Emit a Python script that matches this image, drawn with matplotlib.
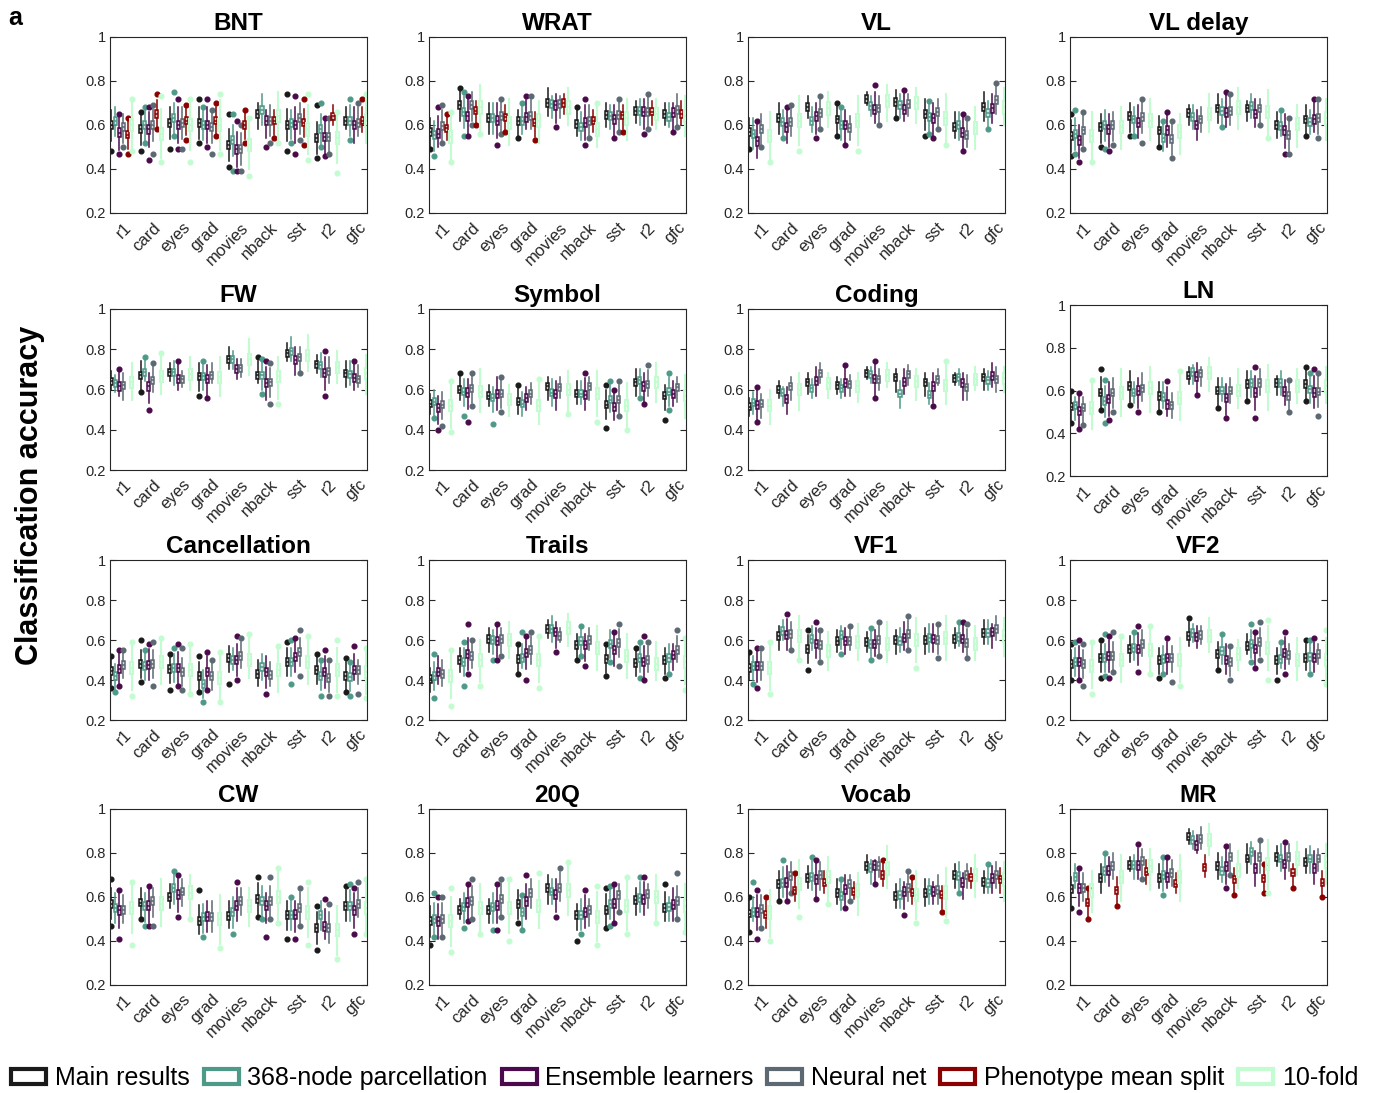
import numpy as np
import matplotlib
matplotlib.use('Agg')
import matplotlib.pyplot as plt
from matplotlib.patches import Patch
from matplotlib.colors import to_rgba

plt.rcParams['font.family'] = ['Liberation Sans', 'DejaVu Sans']

conditions = ['r1', 'card', 'eyes', 'grad', 'movies', 'nback', 'sst', 'r2', 'gfc']
series_names = ['Main results', '368-node parcellation', 'Ensemble learners',
                'Neural net', 'Phenotype mean split', '10-fold']
series_colors = ['#1a1a1a', '#4e9a88', '#4b0a4b', '#5c6872', '#8b0000', '#c4fcd2']
box_half = [0.018, 0.018, 0.02, 0.018, 0.016, 0.028]
panel_titles = ['BNT', 'WRAT', 'VL', 'VL delay', 'FW', 'Symbol', 'Coding', 'LN',
                'Cancellation', 'Trails', 'VF1', 'VF2', 'CW', '20Q', 'Vocab', 'MR']
yticks = [0.2, 0.4, 0.6, 0.8, 1.0]
ytick_labels = ['0.2', '0.4', '0.6', '0.8', '1']

# rows: Main, 368-node, Ensemble, Neural net, Phenotype mean split, 10-fold
bnt_med = [[.60, .58, .61, .61, .51, .65, .60, .54, .62], [.62, .60, .63, .60, .53, .67, .61, .58, .62],
           [.565, .58, .60, .60, .49, .62, .60, .545, .60], [.59, .60, .61, .59, .49, .62, .63, .545, .61],
           [.555, .65, .62, .62, .60, .62, .61, .64, .62], [.60, .56, .60, .60, .51, .64, .58, .54, .62]]
bnt_lo = [[.48, .48, .49, .52, .41, .58, .48, .45, .58], [.55, .52, .55, .53, .39, .60, .52, .50, .53],
          [.47, .44, .49, .50, .39, .50, .47, .46, .52], [.50, .47, .49, .47, .39, .52, .53, .47, .55],
          [.47, .58, .53, .55, .52, .54, .51, .60, .57], [.48, .43, .43, .47, .37, .52, .44, .38, .52]]
bnt_hi = [[.67, .66, .68, .72, .65, .70, .74, .69, .68], [.68, .68, .75, .68, .65, .74, .67, .70, .72],
          [.65, .68, .72, .72, .62, .67, .73, .63, .68], [.65, .69, .68, .67, .60, .69, .70, .63, .70],
          [.63, .74, .69, .70, .67, .67, .72, .69, .72], [.72, .73, .72, .74, .63, .75, .74, .66, .74]]

wrat_med = [[.57, .69, .63, .62, .70, .605, .645, .665, .65], [.555, .66, .63, .62, .695, .59, .64, .665, .635],
            [.56, .64, .62, .635, .69, .61, .625, .66, .655], [.595, .69, .64, .64, .695, .62, .645, .66, .67],
            [.585, .665, .635, .61, .70, .62, .645, .66, .65], [.545, .68, .61, .62, .68, .58, .63, .65, .64]]
wrat_lo = [[.49, .62, .56, .54, .64, .55, .59, .61, .60], [.46, .55, .56, .56, .63, .53, .58, .60, .59],
           [.50, .55, .51, .58, .59, .51, .54, .56, .57], [.52, .60, .56, .58, .63, .54, .57, .58, .59],
           [.53, .60, .57, .53, .65, .57, .57, .60, .60], [.43, .56, .51, .52, .60, .50, .53, .58, .55]]
wrat_hi = [[.63, .77, .70, .67, .77, .68, .70, .71, .70], [.62, .75, .70, .70, .73, .66, .69, .72, .70],
           [.68, .73, .70, .73, .74, .72, .69, .72, .70], [.69, .75, .72, .73, .73, .69, .72, .74, .74],
           [.65, .71, .69, .66, .74, .67, .69, .71, .71], [.66, .78, .72, .71, .77, .70, .72, .72, .73]]

vl_med = [[.57, .63, .68, .625, .72, .705, .65, .59, .68], [.56, .615, .62, .60, .685, .69, .635, .60, .655],
          [.525, .59, .64, .60, .67, .67, .63, .565, .675], [.58, .615, .655, .585, .675, .695, .66, .555, .715],
          None, [.55, .62, .675, .62, .71, .70, .63, .585, .68]]
vl_lo = [[.49, .56, .63, .55, .69, .63, .55, .54, .62], [.49, .54, .57, .53, .64, .63, .56, .53, .58],
         [.45, .52, .54, .51, .61, .62, .54, .48, .61], [.50, .55, .58, .53, .60, .64, .58, .50, .65],
         None, [.43, .48, .59, .48, .62, .61, .51, .49, .60]]
vl_hi = [[.63, .70, .73, .70, .75, .76, .72, .66, .75], [.63, .67, .68, .68, .73, .74, .71, .66, .71],
         [.62, .68, .70, .67, .78, .76, .70, .65, .74], [.65, .69, .73, .64, .73, .74, .72, .63, .79],
         None, [.66, .73, .75, .73, .78, .77, .74, .68, .77]]

vld_med = [[.55, .59, .64, .575, .655, .675, .675, .60, .625], [.56, .60, .625, .54, .635, .665, .685, .595, .615],
           [.53, .58, .61, .575, .60, .655, .65, .575, .625], [.575, .60, .635, .535, .625, .665, .675, .555, .63],
           None, [.55, .59, .62, .57, .65, .68, .66, .605, .63]]
vld_lo = [[.46, .50, .55, .50, .60, .61, .62, .54, .55], [.47, .49, .55, .48, .58, .59, .63, .55, .56],
          [.43, .48, .54, .50, .53, .59, .59, .47, .57], [.49, .51, .52, .45, .57, .60, .60, .47, .54],
          None, [.43, .49, .53, .47, .57, .58, .54, .50, .53]]
vld_hi = [[.65, .65, .70, .64, .69, .74, .71, .66, .69], [.67, .67, .68, .62, .69, .72, .74, .67, .67],
          [.60, .65, .69, .66, .67, .75, .72, .65, .72], [.66, .66, .72, .62, .68, .74, .72, .63, .72],
          None, [.66, .68, .72, .65, .74, .77, .76, .69, .72]]

fw_med = [[.64, .67, .685, .665, .75, .67, .78, .725, .68], [.63, .685, .685, .665, .75, .67, .79, .72, .675],
          [.615, .615, .65, .65, .70, .63, .745, .68, .655], [.62, .645, .65, .67, .705, .635, .76, .69, .65],
          None, [.635, .665, .675, .66, .75, .665, .77, .71, .68]]
fw_lo = [[.60, .59, .64, .57, .70, .63, .74, .68, .61], [.59, .64, .62, .60, .70, .58, .74, .66, .62],
         [.57, .50, .60, .56, .65, .55, .67, .57, .60], [.55, .59, .61, .63, .66, .53, .68, .63, .61],
         None, [.55, .58, .60, .57, .67, .53, .69, .63, .58]]
fw_hi = [[.69, .74, .73, .73, .81, .76, .83, .77, .74], [.67, .76, .74, .74, .79, .75, .86, .78, .74],
         [.70, .68, .74, .72, .75, .74, .81, .79, .74], [.68, .73, .69, .73, .75, .73, .81, .76, .72],
         None, [.73, .78, .76, .76, .85, .76, .87, .79, .77]]

sym_med = [[.53, .60, .57, .54, .615, .58, .525, .635, .57], [.54, .59, .56, .53, .585, .58, .55, .645, .59],
           [.51, .585, .58, .56, .58, .575, .515, .615, .58], [.525, .605, .58, .58, .61, .615, .55, .625, .61],
           None, [.52, .59, .55, .52, .60, .58, .52, .635, .57]]
sym_lo = [[.48, .55, .52, .48, .55, .53, .41, .57, .45], [.46, .47, .43, .47, .52, .53, .49, .56, .50],
          [.40, .44, .50, .50, .50, .50, .45, .53, .52], [.42, .52, .49, .53, .56, .55, .47, .57, .54],
          None, [.39, .49, .47, .43, .48, .44, .40, .54, .46]]
sym_hi = [[.58, .68, .62, .62, .66, .64, .62, .70, .62], [.60, .65, .61, .59, .65, .64, .64, .70, .68],
          [.57, .65, .66, .61, .64, .68, .60, .68, .64], [.59, .68, .66, .63, .66, .66, .64, .72, .66],
          None, [.64, .70, .62, .65, .69, .69, .63, .73, .67]]

cod_med = [[.515, .60, .635, .62, .68, .66, .635, .655, .66], [.535, .585, .605, .605, .675, .58, .575, .66, .645],
           [.525, .555, .64, .63, .65, .635, .615, .63, .665], [.53, .615, .68, .625, .65, .675, .65, .61, .65],
           None, [.52, .60, .63, .615, .67, .64, .62, .65, .655]]
cod_lo = [[.47, .56, .58, .58, .65, .59, .57, .62, .60], [.48, .52, .56, .56, .63, .51, .53, .62, .60],
          [.44, .48, .57, .57, .56, .58, .52, .55, .61], [.46, .55, .63, .57, .60, .62, .62, .55, .59],
          None, [.43, .50, .56, .54, .61, .55, .53, .60, .59]]
cod_hi = [[.56, .64, .68, .66, .71, .70, .68, .68, .70], [.59, .61, .65, .65, .71, .64, .63, .70, .69],
          [.61, .61, .71, .72, .74, .70, .68, .68, .73], [.58, .66, .73, .67, .70, .72, .70, .67, .71],
          None, [.60, .68, .68, .68, .73, .70, .74, .71, .71]]

ln_med = [[.525, .59, .62, .575, .67, .60, .63, .635, .63], [.53, .55, .59, .57, .685, .60, .635, .635, .605],
          [.505, .56, .60, .535, .665, .565, .59, .595, .59], [.52, .59, .61, .53, .68, .60, .635, .575, .595],
          None, [.52, .59, .61, .565, .68, .60, .62, .62, .62]]
ln_lo = [[.45, .51, .53, .50, .63, .52, .55, .58, .55], [.46, .45, .54, .52, .63, .55, .57, .58, .54],
         [.42, .46, .50, .48, .58, .47, .47, .53, .52], [.44, .50, .55, .47, .62, .54, .58, .50, .48],
         None, [.42, .48, .50, .46, .60, .52, .51, .54, .54]]
ln_hi = [[.60, .70, .69, .64, .71, .66, .69, .67, .71], [.57, .65, .64, .64, .72, .66, .69, .69, .68],
         [.59, .64, .66, .645, .73, .63, .71, .65, .70], [.57, .66, .68, .59, .71, .66, .70, .65, .68],
         None, [.65, .70, .71, .69, .75, .70, .72, .70, .71]]

can_med = [[.445, .48, .455, .42, .51, .43, .49, .45, .42], [.42, .47, .46, .38, .50, .465, .49, .42, .415],
           [.455, .475, .46, .44, .50, .44, .515, .44, .45], [.475, .48, .44, .42, .52, .425, .54, .41, .45],
           None, [.46, .49, .45, .41, .50, .45, .49, .45, .44]]
can_lo = [[.36, .39, .35, .34, .38, .37, .42, .38, .34], [.34, .40, .39, .29, .45, .40, .38, .32, .32],
          [.37, .40, .37, .35, .40, .33, .44, .36, .40], [.41, .37, .35, .35, .46, .37, .42, .32, .33],
          None, [.32, .38, .33, .29, .41, .34, .38, .32, .31]]
can_hi = [[.52, .60, .53, .52, .57, .50, .59, .53, .51], [.48, .55, .56, .45, .56, .53, .60, .50, .49],
          [.55, .58, .58, .54, .62, .52, .61, .55, .57], [.55, .59, .56, .50, .61, .49, .65, .50, .50],
          None, [.59, .61, .58, .54, .63, .57, .62, .60, .56]]

trl_med = [[.405, .50, .605, .505, .655, .575, .505, .485, .50], [.42, .49, .60, .51, .655, .595, .58, .51, .51],
           [.44, .53, .595, .535, .64, .575, .55, .49, .525], [.43, .52, .605, .55, .62, .60, .585, .50, .55],
           None, [.42, .50, .60, .50, .66, .56, .52, .48, .49]]
trl_lo = [[.34, .44, .54, .43, .61, .50, .42, .42, .41], [.31, .37, .50, .46, .59, .52, .49, .41, .43],
          [.38, .43, .50, .40, .54, .47, .47, .40, .45], [.37, .46, .52, .48, .59, .55, .47, .44, .49],
          None, [.27, .37, .51, .36, .57, .45, .41, .40, .35]]
trl_hi = [[.46, .56, .66, .58, .70, .63, .58, .56, .56], [.53, .59, .65, .64, .72, .67, .65, .59, .58],
          [.52, .68, .68, .62, .69, .63, .64, .62, .58], [.50, .60, .66, .64, .66, .66, .68, .59, .65],
          None, [.55, .60, .69, .62, .73, .67, .63, .59, .61]]

vf1_med = [[.46, .62, .555, .595, .59, .60, .60, .605, .635], [.47, .645, .605, .625, .58, .595, .61, .615, .635],
           [.47, .625, .58, .595, .58, .61, .605, .605, .64], [.47, .63, .575, .595, .60, .63, .60, .585, .655],
           None, [.46, .62, .545, .59, .58, .60, .61, .58, .62]]
vf1_lo = [[.40, .55, .45, .54, .54, .53, .53, .56, .58], [.38, .60, .55, .53, .50, .54, .54, .57, .58],
          [.36, .55, .51, .53, .52, .55, .54, .54, .56], [.40, .55, .49, .55, .52, .55, .51, .51, .60],
          None, [.33, .50, .45, .50, .49, .46, .50, .50, .52]]
vf1_hi = [[.54, .67, .65, .65, .64, .65, .66, .66, .70], [.52, .70, .67, .67, .66, .66, .68, .69, .70],
          [.56, .73, .69, .66, .65, .69, .68, .69, .68], [.56, .69, .65, .67, .69, .72, .68, .68, .72],
          None, [.59, .72, .64, .68, .69, .71, .72, .67, .71]]

vf2_med = [[.48, .51, .555, .50, .62, .53, .57, .50, .51], [.49, .51, .56, .505, .635, .545, .58, .505, .515],
           [.49, .52, .555, .51, .615, .50, .555, .535, .51], [.48, .52, .58, .51, .625, .49, .59, .525, .53],
           None, [.47, .50, .55, .50, .62, .53, .56, .50, .50]]
vf2_lo = [[.40, .41, .49, .41, .57, .45, .53, .40, .45], [.42, .42, .50, .43, .59, .48, .49, .46, .43],
          [.40, .41, .44, .43, .56, .43, .46, .43, .44], [.37, .44, .52, .39, .58, .40, .50, .48, .48],
          None, [.33, .39, .43, .37, .54, .45, .40, .40, .38]]
vf2_hi = [[.58, .60, .62, .56, .71, .59, .63, .56, .60], [.59, .63, .64, .57, .68, .63, .68, .59, .60],
          [.60, .62, .67, .61, .67, .58, .64, .64, .61], [.58, .64, .65, .57, .67, .57, .69, .58, .58],
          None, [.59, .62, .67, .61, .71, .60, .70, .61, .65]]

cw_med = [[.57, .575, .60, .49, .515, .59, .52, .46, .56], [.55, .56, .64, .51, .53, .58, .52, .52, .56],
          [.54, .56, .61, .51, .56, .56, .52, .465, .54], [.54, .58, .625, .51, .58, .58, .55, .46, .57],
          None, [.55, .57, .62, .50, .56, .60, .53, .45, .55]]
cw_lo = [[.47, .50, .55, .43, .46, .51, .41, .36, .49], [.48, .47, .57, .42, .43, .50, .45, .45, .49],
         [.41, .47, .51, .44, .49, .42, .41, .41, .43], [.48, .47, .56, .44, .52, .50, .47, .39, .51],
         None, [.38, .47, .50, .37, .47, .48, .38, .32, .43]]
cw_hi = [[.68, .64, .66, .63, .58, .69, .58, .56, .65], [.62, .62, .72, .57, .60, .65, .60, .58, .66],
         [.63, .65, .70, .58, .67, .62, .58, .59, .64], [.61, .64, .68, .58, .64, .69, .64, .57, .67],
         None, [.67, .68, .70, .61, .64, .73, .67, .56, .68]]

q20_med = [[.49, .54, .54, .57, .64, .52, .54, .585, .55], [.50, .555, .555, .53, .625, .52, .57, .595, .555],
           [.49, .575, .56, .58, .61, .53, .57, .59, .565], [.50, .58, .59, .62, .64, .54, .61, .615, .58],
           None, [.49, .55, .55, .56, .63, .51, .56, .60, .56]]
q20_lo = [[.38, .50, .48, .48, .57, .40, .46, .52, .49], [.42, .46, .45, .45, .57, .43, .47, .53, .49],
          [.41, .49, .45, .50, .51, .46, .48, .52, .49], [.42, .50, .51, .55, .58, .47, .53, .55, .50],
          None, [.35, .43, .40, .46, .52, .38, .43, .48, .44]]
q20_hi = [[.56, .59, .59, .63, .70, .57, .64, .64, .66], [.62, .62, .62, .61, .68, .59, .65, .69, .60],
          [.60, .66, .66, .70, .68, .63, .66, .69, .64], [.60, .68, .68, .68, .73, .59, .66, .66, .71],
          None, [.64, .66, .68, .71, .76, .65, .69, .70, .66]]

voc_med = [[.525, .66, .685, .62, .74, .605, .62, .70, .67], [.53, .665, .69, .605, .73, .61, .63, .695, .665],
           [.53, .665, .68, .635, .745, .625, .625, .665, .685], [.545, .695, .70, .66, .74, .64, .63, .70, .70],
           [.52, .63, .665, .625, .70, .62, .61, .69, .68], [.53, .66, .69, .63, .73, .61, .62, .70, .68]]
voc_lo = [[.44, .58, .64, .57, .71, .55, .56, .64, .62], [.49, .60, .63, .54, .66, .55, .57, .62, .62],
          [.41, .58, .59, .55, .66, .52, .57, .59, .62], [.46, .62, .63, .58, .69, .58, .57, .64, .64],
          [.46, .58, .62, .59, .65, .57, .53, .64, .62], [.40, .51, .57, .52, .64, .48, .49, .60, .58]]
voc_hi = [[.60, .72, .74, .68, .79, .66, .68, .75, .72], [.67, .77, .78, .68, .77, .68, .68, .76, .75],
          [.63, .74, .77, .70, .77, .67, .67, .71, .74], [.61, .76, .76, .70, .78, .72, .70, .75, .76],
          [.60, .71, .72, .67, .77, .69, .65, .73, .73], [.63, .77, .78, .71, .83, .72, .73, .79, .76]]

mr_med = [[.635, .685, .745, .685, .875, .74, .775, .78, .76], [.69, .72, .745, .70, .86, .72, .805, .775, .775],
          [.64, .72, .745, .69, .835, .74, .73, .75, .73], [.64, .74, .765, .71, .865, .78, .78, .78, .775],
          [.575, .63, .715, .66, .735, .68, .685, .71, .665], [.63, .69, .74, .69, .86, .72, .75, .775, .76]]
mr_lo = [[.55, .62, .72, .64, .84, .68, .71, .74, .71], [.64, .67, .68, .61, .82, .67, .75, .72, .71],
         [.53, .65, .68, .64, .80, .64, .65, .68, .66], [.58, .68, .68, .65, .82, .70, .71, .72, .72],
         [.50, .56, .66, .62, .69, .61, .62, .64, .60], [.53, .58, .63, .58, .79, .64, .62, .70, .66]]
mr_hi = [[.69, .75, .78, .75, .91, .80, .84, .83, .82], [.75, .80, .79, .78, .90, .78, .85, .84, .83],
         [.73, .78, .84, .78, .88, .83, .81, .85, .81], [.71, .80, .82, .77, .92, .84, .86, .84, .82],
         [.64, .69, .77, .71, .79, .73, .75, .75, .72], [.72, .79, .82, .79, .93, .81, .86, .85, .84]]

panel_data = [(bnt_med, bnt_lo, bnt_hi), (wrat_med, wrat_lo, wrat_hi), (vl_med, vl_lo, vl_hi),
              (vld_med, vld_lo, vld_hi), (fw_med, fw_lo, fw_hi), (sym_med, sym_lo, sym_hi),
              (cod_med, cod_lo, cod_hi), (ln_med, ln_lo, ln_hi), (can_med, can_lo, can_hi),
              (trl_med, trl_lo, trl_hi), (vf1_med, vf1_lo, vf1_hi), (vf2_med, vf2_lo, vf2_hi),
              (cw_med, cw_lo, cw_hi), (q20_med, q20_lo, q20_hi), (voc_med, voc_lo, voc_hi),
              (mr_med, mr_lo, mr_hi)]

# ---- layout (pixels) ----
W, H = 1378, 1093
col_left = [110, 429, 748, 1070]
ax_w = 257
row_tb = [(37, 213), (309, 470), (560, 720), (809, 985)]
SLOT = 0.14

fig = plt.figure(figsize=(W / 100, H / 100), dpi=100)
fig.patch.set_facecolor('white')

edge = '#262626'
for i, title in enumerate(panel_titles):
    r, c = divmod(i, 4)
    top, bot = row_tb[r]
    if title == 'LN':
        top, bot = 305, 476
    ax = fig.add_axes([col_left[c] / W, 1 - bot / H, ax_w / W, (bot - top) / H])
    med, lo, hi = panel_data[i]
    for s in range(6):
        if med[s] is None:
            continue
        col = series_colors[s]
        stats, pos = [], []
        for g in range(9):
            m = med[s][g]
            q1, q3 = m - box_half[s], m + box_half[s]
            iqr = q3 - q1
            wl = max(lo[s][g], q1 - 1.5 * iqr)
            wh = min(hi[s][g], q3 + 1.5 * iqr)
            fl = [v for v in (lo[s][g], hi[s][g]) if v < wl - 1e-9 or v > wh + 1e-9]
            stats.append(dict(med=m, q1=q1, q3=q3, whislo=wl, whishi=wh, fliers=fl))
            pos.append(g + s * SLOT)
        lw = 1.5 if s == 5 else 1.1
        ax.bxp(stats, positions=pos, widths=0.105, patch_artist=True, showcaps=False,
               boxprops=dict(facecolor=to_rgba(col, 0.25), edgecolor=col, linewidth=lw),
               medianprops=dict(color=col, linewidth=lw),
               whiskerprops=dict(color=col, linewidth=lw),
               flierprops=dict(marker='o', markerfacecolor=col, markeredgecolor=col,
                               markersize=3.4, linestyle='none'),
               manage_ticks=False)
    ax.set_xlim(-0.04, 8.72)
    ax.set_ylim(0.2, 1.0)
    ax.set_yticks(yticks)
    ax.set_yticklabels(ytick_labels)
    ax.set_xticks(np.arange(9) + 0.42)
    ax.set_xticklabels(conditions, rotation=45, ha='right', rotation_mode='anchor')
    ax.tick_params(axis='y', direction='in', length=4, right=True, labelsize=10.5,
                   colors=edge, width=0.8, pad=3)
    ax.tick_params(axis='x', length=0, labelsize=12, colors=edge, pad=5)
    for sp in ax.spines.values():
        sp.set_color(edge)
        sp.set_linewidth(0.8)
    ax.set_title(title, fontsize=17.5, fontweight='bold', pad=5)

fig.text(30 / W, 1 - 495 / H, 'Classification accuracy', rotation=90, fontsize=22,
         fontweight='bold', ha='center', va='center')
fig.text(8 / W, 1 - 18 / H, 'a', fontsize=18, fontweight='bold', ha='left', va='center')

handles = [Patch(facecolor='white', edgecolor=c, linewidth=3) for c in series_colors]
fig.legend(handles, series_names, loc='center', bbox_to_anchor=(0.497, 1 - 1078 / H),
           ncol=6, frameon=False, fontsize=18, handlelength=1.4, handleheight=0.55,
           columnspacing=0.55, handletextpad=0.35, borderaxespad=0)

fig.savefig('out.png', dpi=100, facecolor='white')
